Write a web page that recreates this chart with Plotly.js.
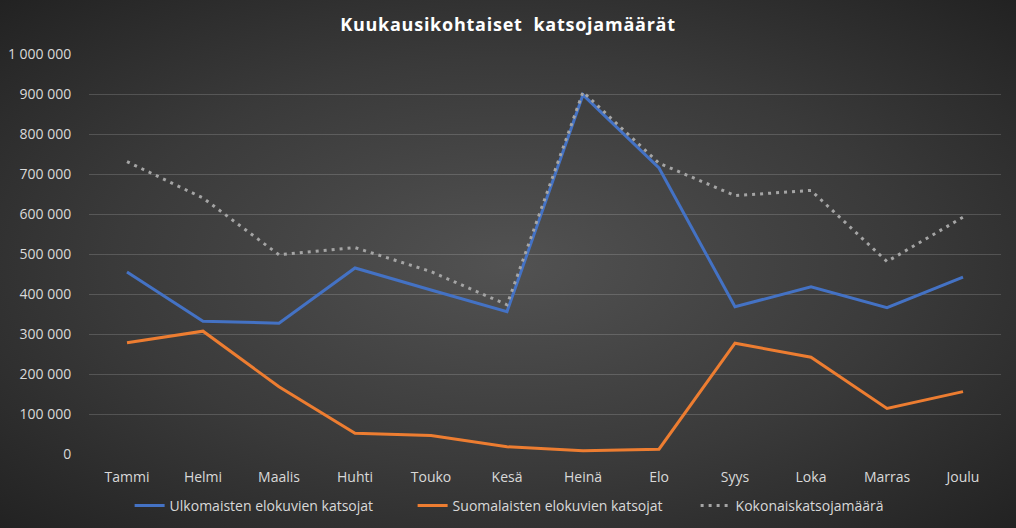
<!DOCTYPE html>
<html>
<head>
<meta charset="utf-8">
<script src="https://cdn.plot.ly/plotly-3.0.1.min.js"></script>
<style>
html,body{margin:0;padding:0;width:1016px;height:528px;overflow:hidden;}
#chart{width:1016px;height:528px;background:radial-gradient(ellipse farthest-corner at 50% 50%, #525252 0%, #3a3a3a 55%, #222222 100%);}
#chart .gtitle{letter-spacing:0.75px;}
</style>
</head>
<body>
<div id="chart"></div>
<script>
const months = ["Tammi","Helmi","Maalis","Huhti","Touko","Kesä","Heinä","Elo","Syys","Loka","Marras","Joulu"];
const ulkomaiset = [455000, 332000, 327000, 465000, 410000, 356000, 898000, 715000, 368000, 418000, 366000, 442000];
const suomalaiset = [278000, 307000, 168000, 52000, 46000, 18000, 8000, 12000, 277000, 242000, 114000, 156000];
const kokonais = [731000, 640000, 498000, 516000, 456000, 373000, 905000, 727000, 646000, 659000, 481000, 592000];
const yTicks = [0,100000,200000,300000,400000,500000,600000,700000,800000,900000,1000000];
const yTickLabels = ["0","100 000","200 000","300 000","400 000","500 000","600 000","700 000","800 000","900 000","1 000 000"];

const font = "'Open Sans', sans-serif";
const traces = [
  {x: months, y: ulkomaiset, type: 'scatter', mode: 'lines', name: 'Ulkomaisten elokuvien katsojat',
   line: {color: '#4472C4', width: 3}},
  {x: months, y: suomalaiset, type: 'scatter', mode: 'lines', name: 'Suomalaisten elokuvien katsojat',
   line: {color: '#ED7D31', width: 3}},
  {x: months, y: kokonais, type: 'scatter', mode: 'lines', name: 'Kokonaiskatsojamäärä',
   line: {color: '#A5A5A5', width: 3, dash: '3px,5px'}}
];
const layout = {
  width: 1016, height: 528,
  paper_bgcolor: 'rgba(0,0,0,0)', plot_bgcolor: 'rgba(0,0,0,0)',
  margin: {l: 89, r: 15, t: 54, b: 74, autoexpand: false},
  title: {text: 'Kuukausikohtaiset  katsojamäärät', x: 0.5, xanchor: 'center', y: 0.953, yanchor: 'middle',
          font: {family: font, size: 18, color: '#ffffff', weight: 'bold'}},
  xaxis: {type: 'category', range: [-0.5, 11.5], showgrid: false, zeroline: false, showline: false,
          ticks: 'outside', ticklen: 10, tickcolor: 'rgba(0,0,0,0)',
          tickfont: {family: font, size: 14, color: '#d9d9d9'}, fixedrange: true},
  yaxis: {range: [0, 1000000], tickvals: yTicks, ticktext: yTickLabels,
          showgrid: true, gridcolor: 'rgba(255,255,255,0.16)', gridwidth: 1, zeroline: false, showline: false,
          ticks: 'outside', ticklen: 14, tickcolor: 'rgba(0,0,0,0)',
          tickfont: {family: font, size: 14, color: '#d9d9d9'}, fixedrange: true},
  showlegend: true,
  legend: {orientation: 'h', x: 0.51, xanchor: 'center', y: -0.13, yanchor: 'middle',
           font: {family: font, size: 14, color: '#d9d9d9'}, bgcolor: 'rgba(0,0,0,0)', itemwidth: 30,
           entrywidth: 238, entrywidthmode: 'pixels'},
  hovermode: false
};
Plotly.newPlot('chart', traces, layout, {displayModeBar: false, staticPlot: true});
</script>
</body>
</html>
